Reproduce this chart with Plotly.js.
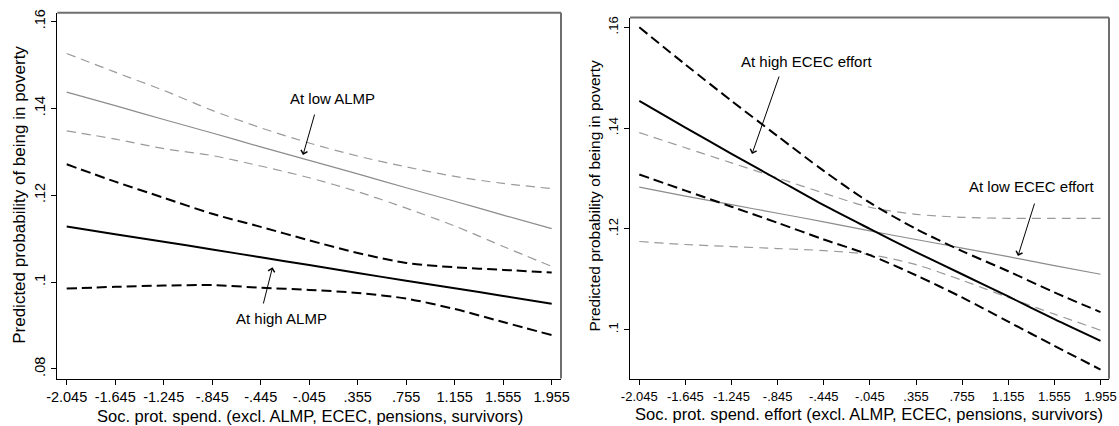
<!DOCTYPE html>
<html>
<head>
<meta charset="utf-8">
<script src="https://cdn.plot.ly/plotly-3.0.1.min.js"></script>
<style>html,body{margin:0;padding:0;background:#fff;}#chart{width:1119px;height:426px;}</style>
</head>
<body>
<div id="chart"></div>
<script>
// ---- data ----
const xTicks = [-2.045,-1.645,-1.245,-0.845,-0.445,-0.045,0.355,0.755,1.155,1.555,1.955];
const xTickText = ["-2.045","-1.645","-1.245","-.845","-.445","-.045",".355",".755","1.155","1.555","1.955"];
const yTicksLeft = [0.08,0.10,0.12,0.14,0.16];
const yTickTextLeft = [".08",".1",".12",".14",".16"];
const yTicksRight = [0.10,0.12,0.14,0.16];
const yTickTextRight = [".1",".12",".14",".16"];

// Left panel: by ALMP level
const highALMP      = [0.1128,0.1110,0.1093,0.1075,0.1057,0.1039,0.1021,0.1003,0.0986,0.0968,0.0950];
const highALMPUpper = [0.1271,0.1231,0.1194,0.1157,0.1127,0.1096,0.1067,0.1044,0.1034,0.1028,0.1022];
const highALMPLower = [0.0985,0.0989,0.0992,0.0993,0.0987,0.0982,0.0975,0.0962,0.0938,0.0908,0.0878];
const lowALMP       = [0.1437,0.1406,0.1374,0.1343,0.1311,0.1280,0.1249,0.1217,0.1186,0.1154,0.1123];
const lowALMPUpper  = [0.1526,0.1483,0.1441,0.1395,0.1355,0.1320,0.1290,0.1265,0.1243,0.1227,0.1215];
const lowALMPLower  = [0.1348,0.1329,0.1307,0.1291,0.1267,0.1240,0.1208,0.1170,0.1129,0.1082,0.1036];

// Right panel: by ECEC effort
const highECEC      = [0.1454,0.1401,0.1349,0.1298,0.1247,0.1200,0.1154,0.1110,0.1066,0.1021,0.0978];
const highECECUpper = [0.1600,0.1526,0.1454,0.1384,0.1315,0.1252,0.1200,0.1156,0.1116,0.1074,0.1035];
const highECECLower = [0.1308,0.1276,0.1244,0.1212,0.1179,0.1148,0.1108,0.1064,0.1016,0.0968,0.0921];
const lowECEC       = [0.1283,0.1265,0.1248,0.1231,0.1214,0.1196,0.1179,0.1162,0.1145,0.1127,0.1110];
const lowECECUpper  = [0.1391,0.1361,0.1331,0.1301,0.1271,0.1243,0.1229,0.1223,0.1221,0.1221,0.1221];
const lowECECLower  = [0.1175,0.1169,0.1165,0.1161,0.1157,0.1149,0.1129,0.1098,0.1064,0.1031,0.0999];

// ---- styles ----
const FONT = "Liberation Sans, Arial, Helvetica, sans-serif";
const blackSolid = {color:'#000000', width:2};
const blackDash  = {color:'#000000', width:2, dash:'10px,5px'};
const graySolid  = {color:'#8c8c8c', width:1.2};
const grayDash   = {color:'#9a9a9a', width:1.2, dash:'9px,6px'};

function tr(y, line, xa, ya, name){
  return {x:xTicks, y:y, mode:'lines', line:Object.assign({shape:'spline', smoothing:0.8}, line),
          xaxis:xa, yaxis:ya, name:name, hoverinfo:'skip'};
}

const data = [
  tr(lowALMPUpper, grayDash, 'x','y','Low ALMP upper'),
  tr(lowALMPLower, grayDash, 'x','y','Low ALMP lower'),
  tr(lowALMP, graySolid, 'x','y','At low ALMP'),
  tr(highALMPUpper, blackDash, 'x','y','High ALMP upper'),
  tr(highALMPLower, blackDash, 'x','y','High ALMP lower'),
  tr(highALMP, blackSolid, 'x','y','At high ALMP'),
  tr(lowECECUpper, grayDash, 'x2','y2','Low ECEC upper'),
  tr(lowECECLower, grayDash, 'x2','y2','Low ECEC lower'),
  tr(lowECEC, graySolid, 'x2','y2','At low ECEC effort'),
  tr(highECECUpper, blackDash, 'x2','y2','High ECEC upper'),
  tr(highECECLower, blackDash, 'x2','y2','High ECEC lower'),
  tr(highECEC, blackSolid, 'x2','y2','At high ECEC effort')
];

const W = 1119, H = 426;
const px = v => v / W;
const py = v => 1 - v / H;

function xAxis(domain, range, anchor, size){
  return {domain:domain, range:range, anchor:anchor, tickmode:'array', tickvals:xTicks, ticktext:xTickText,
          ticks:'outside', ticklen:5, tickwidth:1, tickcolor:'#000', showline:true, linecolor:'#000', linewidth:1.5,
          showgrid:false, zeroline:false, tickfont:{family:FONT, size:size, color:'#000'}, fixedrange:true};
}
function yAxis(domain, range, anchor, vals, text, size){
  return {domain:domain, range:range, anchor:anchor, tickmode:'array', tickvals:vals, ticktext:text, tickangle:-90,
          ticks:'outside', ticklen:5, tickwidth:1, tickcolor:'#000', showline:true, linecolor:'#000', linewidth:1.5,
          showgrid:false, zeroline:false, tickfont:{family:FONT, size:size, color:'#000'}, fixedrange:true};
}

function txt(text, x, y, size, angle){
  return {text:text, xref:'paper', yref:'paper', x:px(x), y:py(y), xanchor:'center', yanchor:'middle',
          showarrow:false, textangle:angle||0, font:{family:FONT, size:size, color:'#000'}};
}
function arrow(tipX, tipY, tailX, tailY){
  return {text:'', xref:'paper', yref:'paper', x:px(tipX), y:py(tipY), ax:tailX-tipX, ay:tailY-tipY,
          axref:'pixel', ayref:'pixel', showarrow:true, arrowhead:4, arrowsize:1.3, arrowwidth:1, arrowcolor:'#000'};
}

const layout = {
  width:W, height:H, margin:{l:0,r:0,t:0,b:0}, showlegend:false,
  paper_bgcolor:'#fff', plot_bgcolor:'#fff',
  xaxis: xAxis([px(57.3), px(561)], [-2.1225, 2.0317], 'y', 14.5),
  yaxis: yAxis([1-378.5/H, 1-12.7/H], [0.07781, 0.16198], 'x', yTicksLeft, yTickTextLeft, 14.5),
  xaxis2: xAxis([px(630), px(1109)], [-2.1257, 2.0287], 'y2', 13),
  yaxis2: yAxis([1-378.7/H, 1-17.5/H], [0.09028, 0.16194], 'x2', yTicksRight, yTickTextRight, 13),
  shapes: [
    {type:'line', xref:'x domain', yref:'y domain', x0:0, x1:1, y0:1, y1:1, line:{color:'#6e6e6e', width:2}},
    {type:'line', xref:'x domain', yref:'y domain', x0:1, x1:1, y0:0, y1:1, line:{color:'#6e6e6e', width:2}},
    {type:'line', xref:'x2 domain', yref:'y2 domain', x0:0, x1:1, y0:1, y1:1, line:{color:'#6e6e6e', width:2}},
    {type:'line', xref:'x2 domain', yref:'y2 domain', x0:1, x1:1, y0:0, y1:1, line:{color:'#6e6e6e', width:2}}
  ],
  annotations: [
    txt('Soc. prot. spend. (excl. ALMP, ECEC, pensions, survivors)', 309.5, 415.5, 16.5),
    txt('Predicted probability of being in poverty', 18.8, 195, 17, -90),
    txt('Soc. prot. spend. effort (excl. ALMP, ECEC, pensions, survivors)', 869.3, 414, 16.5),
    txt('Predicted probability of being in poverty', 593.6, 196, 15.5, -90),
    txt('At low ALMP', 332, 98, 15),
    arrow(303, 155, 315, 113),
    txt('At high ALMP', 281.5, 318, 15),
    arrow(272.5, 267.3, 263, 305),
    txt('At high ECEC effort', 806, 62, 15),
    arrow(752, 154, 779.6, 75),
    txt('At low ECEC effort', 1031.5, 186, 15),
    arrow(1018, 256, 1035, 202)
  ]
};

Plotly.newPlot('chart', data, layout, {displayModeBar:false, staticPlot:true});
</script>
</body>
</html>
